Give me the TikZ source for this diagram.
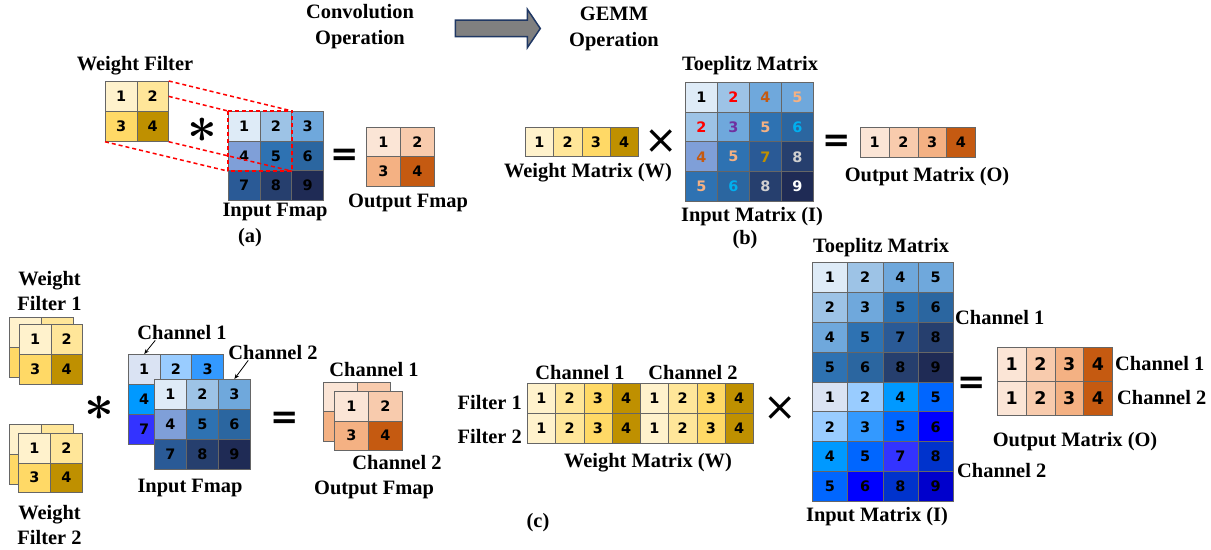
\documentclass[tikz,border=0pt]{standalone}
\usepackage{graphicx}
\usepackage{fontspec}
\setmainfont{Liberation Serif}
\newfontfamily\digitfont{DejaVu Sans}
\usetikzlibrary{arrows.meta,shapes.arrows}

\definecolor{wA}{HTML}{FFF2CC}
\definecolor{wB}{HTML}{FFE699}
\definecolor{wC}{HTML}{FFD966}
\definecolor{wD}{HTML}{BF9000}
\definecolor{oA}{HTML}{FBE5D6}
\definecolor{oB}{HTML}{F8CBAD}
\definecolor{oC}{HTML}{F4B183}
\definecolor{oD}{HTML}{C55A11}
\definecolor{bA}{HTML}{DEEBF7}
\definecolor{bB}{HTML}{9DC3E6}
\definecolor{bC}{HTML}{6FA8DC}
\definecolor{bD}{HTML}{7F9FD8}
\definecolor{bE}{HTML}{2E72B2}
\definecolor{bF}{HTML}{2B66A0}
\definecolor{bG}{HTML}{2A5A96}
\definecolor{bH}{HTML}{263F6E}
\definecolor{bI}{HTML}{1F2B55}
\definecolor{cA}{HTML}{DAE3F3}
\definecolor{cB}{HTML}{99CCFF}
\definecolor{cC}{HTML}{3399FF}
\definecolor{cD}{HTML}{0099FF}
\definecolor{cE}{HTML}{0066FF}
\definecolor{cF}{HTML}{0000FF}
\definecolor{cG}{HTML}{3333FF}
\definecolor{cH}{HTML}{0033CC}
\definecolor{cI}{HTML}{0000CC}
\definecolor{tOr}{HTML}{C55A11}
\definecolor{tLo}{HTML}{F4B183}
\definecolor{tPu}{HTML}{7030A0}
\definecolor{tCy}{HTML}{00B0F0}
\definecolor{tGo}{HTML}{BF9000}
\definecolor{tGr}{HTML}{D0D0D0}
\definecolor{navy}{HTML}{203864}

\newcommand{\convast}{\scalebox{5.2}{\boldmath$\ast$}}

\tikzset{
  cell/.style={draw=black!60, line width=0.75bp, inner sep=0pt, anchor=north west,
    font=\digitfont\bfseries\fontsize{14.5}{14.5}\selectfont},
  bigdigits/.style={font=\digitfont\bfseries\fontsize{17.5}{17.5}\selectfont},
  lbl/.style={inner sep=0pt, font=\bfseries\fontsize{20.5}{26}\selectfont},
  eqsign/.style={inner sep=0pt, font=\digitfont\bfseries\fontsize{34}{34}\selectfont},
  timessign/.style={inner sep=0pt, font=\digitfont\fontsize{40}{40}\selectfont},
  convsign/.style={inner sep=0pt},
  redline/.style={draw=red, line width=1.5bp, dash pattern=on 4bp off 3bp},
  bigarrow/.style={single arrow, draw=navy, fill=black!50, line width=1.5bp,
    minimum height=85bp, inner xsep=0pt, inner ysep=7.5bp,
    single arrow head extend=11bp, single arrow tip angle=112},
  pointer/.style={-{Stealth[length=5bp,width=4bp]}, line width=0.8bp}
}

\begin{document}
\begin{tikzpicture}[x=1bp,y=-1bp]
\useasboundingbox (0,0) rectangle (1211,550);

% title
\node[lbl, align=center] (conv) at (360,27) {Convolution\\Operation};
\node[lbl, align=center] (gemm) at (614,29) {GEMM\\Operation};
\node[bigarrow] (go) at (495,28.5) {};

% (a) convolution
\foreach \x/\y/\f/\t in {0/0/wA/1,1/0/wB/2,0/1/wC/3,1/1/wD/4}
  \node[cell, fill=\f, minimum width=31.5bp, minimum height=30bp] (wf-\x-\y) at (105+\x*31.5,81+\y*30) {\t};
\foreach \x/\y/\f/\t in {0/0/bA/1,1/0/bB/2,2/0/bC/3,0/1/bD/4,1/1/bE/5,2/1/bF/6,0/2/bG/7,1/2/bH/8,2/2/bI/9}
  \node[cell, fill=\f, minimum width=31.7bp, minimum height=29.7bp] (in-\x-\y) at (228+\x*31.7,111+\y*29.7) {\t};
\foreach \x/\y/\f/\t in {0/0/oA/1,1/0/oB/2,0/1/oC/3,1/1/oD/4}
  \node[cell, fill=\f, minimum width=34bp, minimum height=29.5bp] (of-\x-\y) at (366+\x*34,127+\y*29.5) {\t};
\draw[redline] (in-0-0.north west) rectangle (in-1-1.south east);
\draw[redline] (wf-1-0.north east) -- (in-1-0.north east);
\draw[redline] (wf-1-0.east) -- (in-0-0.north west);
\draw[redline] (wf-0-1.south west) -- (in-0-1.south west);
\draw[redline] (wf-1-1.south east) -- (in-1-1.south east);
\node[lbl] (wfl) at (135,66) {Weight Filter};
\node[lbl] (infl) at (275,212) {Input Fmap};
\node[lbl] (ofl) at (408,203) {Output Fmap};
\node[lbl] (capa) at (250,238) {(a)};
\node[convsign] (ast1) at (202,130) {\convast};
\node[eqsign] (eq1) at (345,157) {=};

% (b) gemm
\foreach \x/\f/\t in {0/wA/1,1/wB/2,2/wC/3,3/wD/4}
  \node[cell, fill=\f, minimum width=28.25bp, minimum height=29bp] (wm-\x) at (525+\x*28.25,127) {\t};
\foreach \x/\y/\f/\t/\c in {0/0/bA/1/black,1/0/bB/2/red,2/0/bC/4/tOr,3/0/bC/5/tLo,
    0/1/bB/2/red,1/1/bC/3/tPu,2/1/bE/5/tLo,3/1/bF/6/tCy,
    0/2/bD/4/tOr,1/2/bE/5/tLo,2/2/bG/7/tGo,3/2/bH/8/tGr,
    0/3/bE/5/tLo,1/3/bF/6/tCy,2/3/bH/8/tGr,3/3/bI/9/white}
  \node[cell, fill=\f, text=\c, minimum width=32bp, minimum height=29.75bp] (tp-\x-\y) at (685+\x*32,82+\y*29.75) {\t};
\foreach \x/\f/\t in {0/oA/1,1/oB/2,2/oC/3,3/oD/4}
  \node[cell, fill=\f, minimum width=28.75bp, minimum height=30bp] (om-\x) at (860+\x*28.75,127) {\t};
\node[lbl] (tpl) at (750,66) {Toeplitz Matrix};
\node[lbl] (inml) at (752,217) {Input Matrix (I)};
\node[lbl] (wml) at (588,173) {Weight Matrix (W)};
\node[lbl] (oml) at (927,177) {Output Matrix (O)};
\node[lbl] (capb) at (745,240) {(b)};
\node[timessign] (mul1) at (661,142) {×};
\node[eqsign] (eq2) at (837,143) {=};

% (c) two channels, two filters
\foreach \x/\y/\f in {0/0/wA,1/0/wB,0/1/wC}
  \node[cell, fill=\f, minimum width=32bp, minimum height=30bp] (fa-\x-\y) at (9+\x*32,317+\y*30) {};
\foreach \x/\y/\f/\t in {0/0/wA/1,1/0/wB/2,0/1/wC/3,1/1/wD/4}
  \node[cell, fill=\f, minimum width=31.5bp, minimum height=30bp] (fb-\x-\y) at (19+\x*31.5,324+\y*30) {\t};
\foreach \x/\y/\f in {0/0/wA,1/0/wB,0/1/wC}
  \node[cell, fill=\f, minimum width=32bp, minimum height=30bp] (fc-\x-\y) at (9+\x*32,424+\y*30) {};
\foreach \x/\y/\f/\t in {0/0/wA/1,1/0/wB/2,0/1/wC/3,1/1/wD/4}
  \node[cell, fill=\f, minimum width=32bp, minimum height=29.5bp] (fd-\x-\y) at (18+\x*32,433+\y*29.5) {\t};
\node[lbl, align=center] (f1l) at (49.5,291) {Weight\\Filter 1};
\node[lbl, align=center] (f2l) at (49.5,525) {Weight\\Filter 2};
\node[convsign] (ast2) at (99,408) {\convast};

\foreach \x/\y/\f/\t in {0/0/cA/1,1/0/cB/2,2/0/cC/3,0/1/cD/4,0/2/cG/7}
  \node[cell, fill=\f, minimum width=31.7bp, minimum height=30bp] (ca-\x-\y) at (128+\x*31.7,354+\y*30) {\t};
\foreach \x/\y/\f/\t in {0/0/bA/1,1/0/bB/2,2/0/bC/3,0/1/bD/4,1/1/bE/5,2/1/bF/6,0/2/bG/7,1/2/bH/8,2/2/bI/9}
  \node[cell, fill=\f, minimum width=32bp, minimum height=30bp] (cb-\x-\y) at (154+\x*32,379+\y*30) {\t};
\node[lbl] (ch1l) at (182,333) {Channel 1};
\node[lbl] (ch2l) at (273,353) {Channel 2};
\draw[pointer] ([xshift=18bp]ch1l.south west) -- (ca-0-0.north);
\draw[pointer] ([xshift=20bp]ch2l.south west) -- (cb-2-0.north);
\node[lbl] (in2l) at (190,488) {Input Fmap};
\node[eqsign] (eq3) at (285,420) {=};

\foreach \x/\y/\f in {0/0/oA,1/0/oB,0/1/oC}
  \node[cell, fill=\f, minimum width=33.5bp, minimum height=29.5bp] (oa-\x-\y) at (323+\x*33.5,382+\y*29.5) {};
\foreach \x/\y/\f/\t in {0/0/oA/1,1/0/oB/2,0/1/oC/3,1/1/oD/4}
  \node[cell, fill=\f, minimum width=34bp, minimum height=29.5bp] (ob-\x-\y) at (334+\x*34,391+\y*29.5) {\t};
\node[lbl] (oc1l) at (374,370) {Channel 1};
\node[lbl] (oc2l) at (397,463) {Channel 2};
\node[lbl] (of2l) at (374,490) {Output Fmap};

\foreach \y in {0,1}
  \foreach \x/\f/\t in {0/wA/1,1/wB/2,2/wC/3,3/wD/4,4/wA/1,5/wB/2,6/wC/3,7/wD/4}
    \node[cell, fill=\f, minimum width=28.25bp, minimum height=30bp] (wn-\x-\y) at (527+\x*28.25,383+\y*30) {\t};
\node[lbl] (wc1l) at (580,373) {Channel 1};
\node[lbl] (wc2l) at (693,373) {Channel 2};
\node[lbl, anchor=east] (fl1) at (522,403) {Filter 1};
\node[lbl, anchor=east] (fl2) at (522,437) {Filter 2};
\node[lbl] (wm2l) at (648,463) {Weight Matrix (W)};
\node[lbl] (capc) at (538,523) {(c)};
\node[timessign] (mul2) at (780,409) {×};

\foreach \x/\y/\f/\t in {0/0/bA/1,1/0/bB/2,2/0/bC/4,3/0/bC/5,
    0/1/bB/2,1/1/bC/3,2/1/bE/5,3/1/bF/6,
    0/2/bC/4,1/2/bE/5,2/2/bG/7,3/2/bH/8,
    0/3/bE/5,1/3/bF/6,2/3/bH/8,3/3/bI/9,
    0/4/cA/1,1/4/cB/2,2/4/cD/4,3/4/cE/5,
    0/5/cB/2,1/5/cC/3,2/5/cE/5,3/5/cF/6,
    0/6/cD/4,1/6/cE/5,2/6/cG/7,3/6/cH/8,
    0/7/cE/5,1/7/cF/6,2/7/cH/8,3/7/cI/9}
  \node[cell, fill=\f, minimum width=35.25bp, minimum height=29.9bp] (tq-\x-\y) at (812+\x*35.25,262+\y*29.9) {\t};
\node[lbl] (tql) at (881,248) {Toeplitz Matrix};
\node[lbl, anchor=west] (tc1l) at (955,318) {Channel 1};
\node[lbl, anchor=west] (tc2l) at (957,471) {Channel 2};
\node[lbl] (in3l) at (877,517) {Input Matrix (I)};
\node[eqsign] (eq4) at (972,385) {=};

\foreach \y in {0,1}
  \foreach \x/\f/\t in {0/oA/1,1/oB/2,2/oC/3,3/oD/4}
    \node[cell, bigdigits, fill=\f, minimum width=28.75bp, minimum height=34bp] (oc-\x-\y) at (997+\x*28.75,347+\y*34) {\t};
\node[lbl, anchor=west] (occ1l) at (1115,364) {Channel 1};
\node[lbl, anchor=west] (occ2l) at (1117,398) {Channel 2};
\node[lbl] (om2l) at (1075,442) {Output Matrix (O)};
\end{tikzpicture}
\end{document}
